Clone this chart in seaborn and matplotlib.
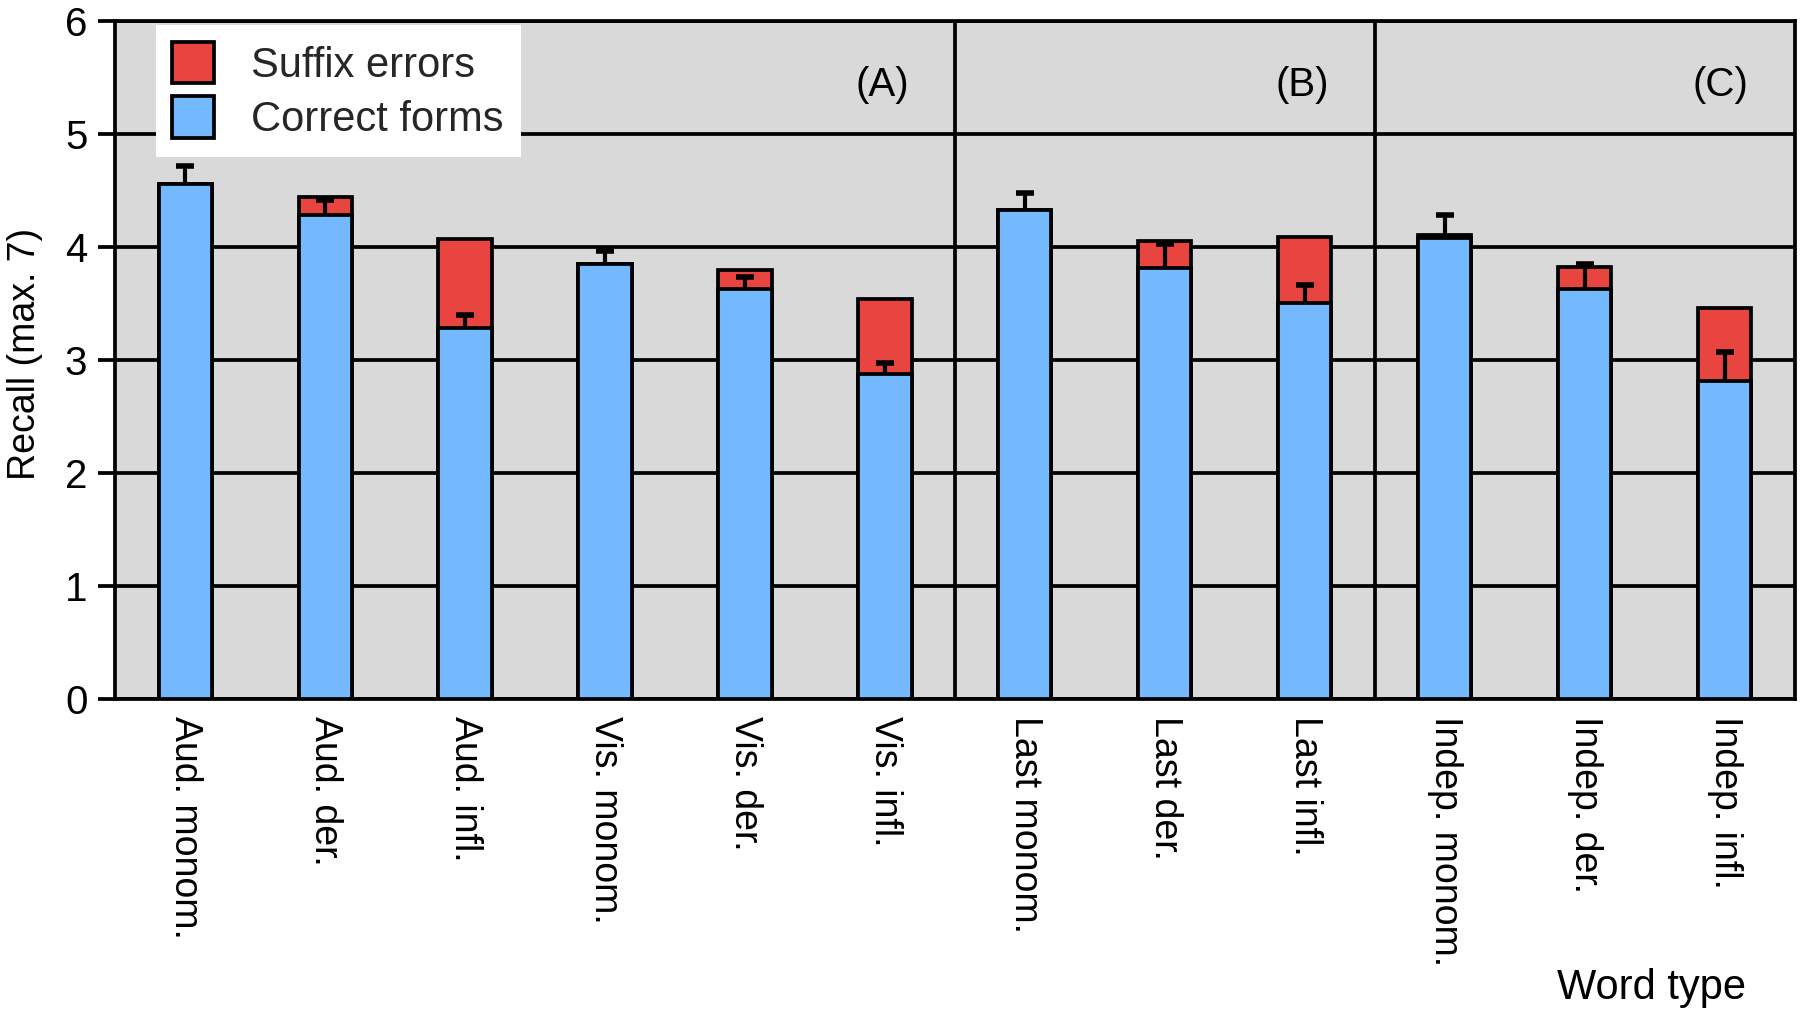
import numpy as np
import pandas as pd
import matplotlib
matplotlib.use("Agg")
import matplotlib.pyplot as plt
import seaborn as sns
from matplotlib.patches import Patch

# ---- data ----
categories = ["Aud. monom.", "Aud. der.", "Aud. infl.", "Vis. monom.", "Vis. der.", "Vis. infl.",
              "Last monom.", "Last der.", "Last infl.", "Indep. monom.", "Indep. der.", "Indep. infl."]
correct_forms = [4.56, 4.29, 3.29, 3.85, 3.63, 2.88, 4.33, 3.82, 3.51, 4.08, 3.63, 2.82]
suffix_errors = [0.00, 0.16, 0.78, 0.00, 0.17, 0.66, 0.00, 0.24, 0.58, 0.03, 0.20, 0.64]
correct_se = [0.16, 0.13, 0.11, 0.12, 0.11, 0.10, 0.15, 0.21, 0.16, 0.21, 0.22, 0.25]
panel_labels = ["(A)", "(B)", "(C)"]
panel_sizes = [6, 3, 3]
y_ticks = [0, 1, 2, 3, 4, 5, 6]

sns.set_theme(style="ticks")
plt.rcParams["font.family"] = ["Liberation Sans", "DejaVu Sans"]

RED = "#e84440"
BLUE = "#74b8fd"
LW = 2.7
FS = 27
FS_BIG = 29

df = pd.DataFrame({
    "word_type": categories,
    "correct": correct_forms,
    "total": np.add(correct_forms, suffix_errors),
    "se": correct_se,
})

fig = plt.figure(figsize=(18, 10.18), dpi=100)
ax = fig.add_axes([0.064, 0.313, 0.933, 0.666])
ax.set_facecolor("#d9d9d9")
ax.set_axisbelow(True)
ax.yaxis.grid(True, color="black", linewidth=LW)

sns.barplot(data=df, x="word_type", y="total", order=categories, color=RED, saturation=1,
            width=0.38, edgecolor="black", linewidth=LW, errorbar=None, ax=ax, zorder=2)
sns.barplot(data=df, x="word_type", y="correct", order=categories, color=BLUE, saturation=1,
            width=0.38, edgecolor="black", linewidth=LW, errorbar=None, ax=ax, zorder=3)

pos = np.arange(len(categories))
eb = ax.errorbar(pos, df["correct"], yerr=[np.zeros(len(pos)), df["se"]], fmt="none",
                 ecolor="black", elinewidth=LW + 0.3, capsize=6.5, capthick=4.0, zorder=4)
# keep only the upper caps (one-sided error bars)
eb[1][0].remove()

# panel dividers and labels
bounds = np.cumsum(panel_sizes) - 0.5
for b, lab in zip(bounds, panel_labels):
    if b < len(categories) - 0.5:
        ax.axvline(b, color="black", linewidth=LW, zorder=1.5)
    ax.text(b - 0.33, 5.44, lab, ha="right", va="center", fontsize=FS_BIG, color="black")

ax.set_xlim(-0.5, len(categories) - 0.5)
ax.set_ylim(0, 6)
ax.set_yticks(y_ticks)
ax.set_yticklabels([str(t) for t in y_ticks])
ax.tick_params(axis="y", length=12, width=LW, pad=8, labelsize=FS_BIG, colors="black")
ax.tick_params(axis="x", length=0, pad=12, labelsize=FS, colors="black")
for lab in ax.get_xticklabels():
    lab.set_rotation(-90)
    lab.set_ha("center")
    lab.set_va("top")

for sp in ax.spines.values():
    sp.set_color("black")
    sp.set_linewidth(LW)

ax.set_ylabel("Recall (max. 7)", fontsize=FS, color="black")
ax.yaxis.set_label_coords(-0.043, 0.51)
ax.set_xlabel("Word type", fontsize=FS_BIG + 1, color="black", ha="right", va="center")
ax.xaxis.set_label_coords(0.971, -0.425)

handles = [Patch(facecolor=RED, edgecolor="black", linewidth=LW, label="Suffix errors"),
           Patch(facecolor=BLUE, edgecolor="black", linewidth=LW, label="Correct forms")]
leg = ax.legend(handles=handles, loc="upper left", bbox_to_anchor=(0.024, 0.994),
                borderaxespad=0, frameon=True, fancybox=False, framealpha=1,
                facecolor="white", edgecolor="white", fontsize=FS_BIG + 1,
                handlelength=1.0, handleheight=1.15, handletextpad=0.9,
                labelspacing=0.25, borderpad=0.4)
leg.get_frame().set_linewidth(0)
leg.set_zorder(5)

fig.savefig("out.png", dpi=100)
